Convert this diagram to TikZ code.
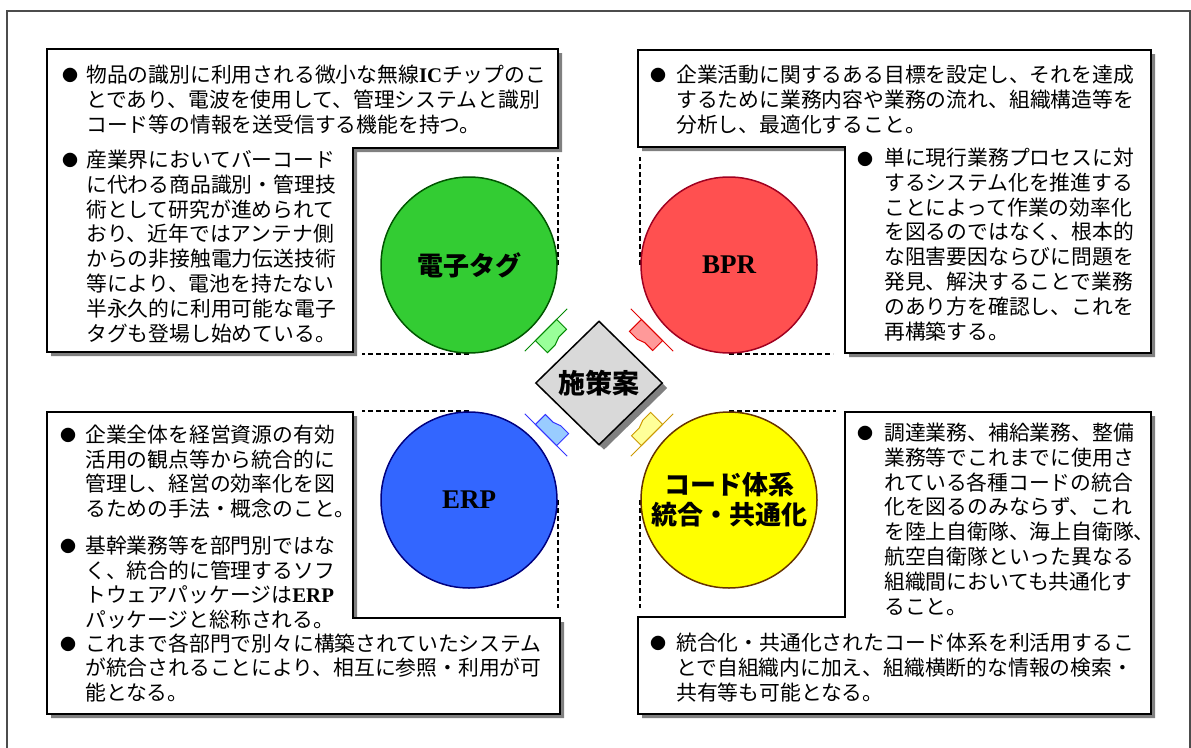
\documentclass[tikz,border=0pt]{standalone}
\usepackage{fontspec}
\usetikzlibrary{shapes.geometric,shadows}
\newfontfamily\jp{Noto Sans CJK JP}
\newfontfamily\tnr{Liberation Serif}
\newcommand\tnrb{\tnr\bfseries}
\definecolor{cgreen}{HTML}{33CC33}
\definecolor{cgreenD}{HTML}{005500}
\definecolor{cred}{HTML}{FF5050}
\definecolor{credD}{HTML}{A00020}
\definecolor{cblue}{HTML}{3366FF}
\definecolor{cblueD}{HTML}{000080}
\definecolor{cyellow}{HTML}{FFFF00}
\definecolor{cyellowD}{HTML}{663300}
\definecolor{mgreen}{HTML}{99FF99}
\definecolor{mgreenD}{HTML}{008800}
\definecolor{mred}{HTML}{FF9999}
\definecolor{mredD}{HTML}{E00000}
\definecolor{mblue}{HTML}{99CCFF}
\definecolor{mblueD}{HTML}{3333FF}
\definecolor{myellow}{HTML}{FFFF99}
\definecolor{myellowD}{HTML}{CC9900}
\begin{document}
\begin{tikzpicture}[x=1pt,y=-1pt,
  frame/.style={draw=black!70,line width=1.3pt},
  boxbody/.style={fill=white,draw=black,line width=1.1pt,
     drop shadow={shadow xshift=4pt,shadow yshift=-4pt,opacity=1,fill=black!50}},
  dashline/.style={draw=black,line width=1.8pt,dash pattern=on 5pt off 3pt},
  txt/.style={font=\jp\fontsize{20.8}{24}\selectfont,anchor=base west,inner sep=0pt},
  bul/.style={font=\jp\fontsize{16}{16}\selectfont,inner sep=0pt},
  ball/.style={circle,minimum size=176pt,inner sep=0pt,line width=1.5pt},
  jlabel/.style={font=\jp\bfseries\fontsize{26}{30}\selectfont,align=center},
  llabel/.style={font=\tnr\bfseries\fontsize{27}{30}\selectfont},
  mk/.pic={
    \filldraw[pic actions] (0,-15) -- (0,15) -- (-14,15) -- (-14,4) -- (-17,-4) -- (-17,-15) -- cycle;
    \draw[pic actions] (0,-30) -- (0,30);
  }]
\useasboundingbox (0,0) rectangle (1191,747);
\clip (0,0) rectangle (1191,747);
% outer frame
\draw[frame] (7,11) rectangle (1190,800);
% boxes
\draw[boxbody] (47,49) -- (558,49) -- (558,148) -- (353,148) -- (353,352) -- (47,352) -- cycle;
\draw[boxbody] (638,50) -- (1151,50) -- (1151,353) -- (845,353) -- (845,147) -- (638,147) -- cycle;
\draw[boxbody] (47,412) -- (353,412) -- (353,618) -- (560,618) -- (560,714) -- (47,714) -- cycle;
\draw[boxbody] (845,412) -- (1151,412) -- (1151,714) -- (638,714) -- (638,617) -- (845,617) -- cycle;
% circles (anchors for guide lines)
\node[ball] (tag) at (469,265) {};
\node[ball] (bpr) at (729,265) {};
\node[ball] (erp) at (469,500) {};
\node[ball] (code) at (729,500) {};
% dashed guide lines
\draw[dashline] (tag.east) -- ++(0,-108);
\draw[dashline] (tag.south) -- ++(-107,0);
\draw[dashline] (bpr.west) -- ++(0,-108);
\draw[dashline] (bpr.south) -- ++(104,0);
\draw[dashline] (erp.north) -- ++(-107,0);
\draw[dashline] (erp.east) -- ++(0,108);
\draw[dashline] (code.north) -- ++(107,0);
\draw[dashline] (code.west) -- ++(0,108);
% coloured circles
\node[ball,fill=cgreen,draw=cgreenD,jlabel] (tag2) at (tag) {電子タグ};
\node[ball,fill=cred,draw=credD,llabel] (bpr2) at (bpr) {BPR};
\node[ball,fill=cblue,draw=cblueD,llabel] (erp2) at (erp) {ERP};
\node[ball,fill=cyellow,draw=cyellowD,jlabel] (code2) at (code) {コード体系\\統合・共通化};
% markers
\pic[rotate=135,draw=mgreenD,fill=mgreen,line width=1pt] (mkg) at (546,330) {mk};
\pic[rotate=45,draw=mredD,fill=mred,line width=1pt] (mkr) at (652,330) {mk};
\pic[rotate=225,draw=mblueD,fill=mblue,line width=1pt] (mkb) at (546,435) {mk};
\pic[rotate=-45,draw=myellowD,fill=myellow,line width=1pt] (mky) at (652,435) {mk};
% centre diamond
\node[diamond,draw=black,fill=black!15,line width=1.5pt,minimum width=127pt,minimum height=124pt,
  inner sep=0pt,jlabel,font=\jp\bfseries\fontsize{27}{30}\selectfont,
  drop shadow={shadow xshift=5pt,shadow yshift=-5pt,opacity=1,fill=black!50}] (plan) at (599,383) {施策案};
% bullets
\foreach \x/\y [count=\k] in {70/75,70/160,658/75,865/159,68/435,68/546,68/644,865/433,658/643}
  \node[bul] (b\k) at (\x,\y) {●};
% texts
\foreach \t [count=\i from 0] in {物品の識別に利用される微小な無線{\tnrb IC}チップのこ,とであり、電波を使用して、管理システムと識別,コード等の情報を送受信する機能を持つ。}
  \node[txt] (tla\i) at (86,{82.5+24.8*\i}) {\t};
\foreach \t [count=\i from 0] in {産業界においてバーコード,に代わる商品識別・管理技,術として研究が進められて,おり、近年ではアンテナ側,からの非接触電力伝送技術,等により、電池を持たない,半永久的に利用可能な電子,タグも登場し始めている。}
  \node[txt] (tlb\i) at (86,{167.5+24.8*\i}) {\t};
\foreach \t [count=\i from 0] in {企業活動に関するある目標を設定し、それを達成,するために業務内容や業務の流れ、組織構造等を,分析し、最適化すること。}
  \node[txt] (tra\i) at (676,{82.5+24.8*\i}) {\t};
\foreach \t [count=\i from 0] in {単に現行業務プロセスに対,するシステム化を推進する,ことによって作業の効率化,を図るのではなく、根本的,な阻害要因ならびに問題を,発見、解決することで業務,のあり方を確認し、これを,再構築する。}
  \node[txt] (trb\i) at (884,{165.5+24.8*\i}) {\t};
\foreach \t [count=\i from 0] in {企業全体を経営資源の有効,活用の観点等から統合的に,管理し、経営の効率化を図,るための手法・概念のこと。}
  \node[txt] (bla\i) at (85,{442.5+24.6*\i}) {\t};
\foreach \t [count=\i from 0] in {基幹業務等を部門別ではな,く、統合的に管理するソフ,トウェアパッケージは{\tnrb ERP},パッケージと総称される。}
  \node[txt] (blb\i) at (85,{553.5+24.6*\i}) {\t};
\foreach \t [count=\i from 0] in {これまで各部門で別々に構築されていたシステム,が統合されることにより、相互に参照・利用が可,能となる。}
  \node[txt] (blc\i) at (85,{651+24.6*\i}) {\t};
\foreach \t [count=\i from 0] in {調達業務、補給業務、整備,業務等でこれまでに使用さ,れている各種コードの統合,化を図るのみならず、これ,を陸上自衛隊、海上自衛隊、,航空自衛隊といった異なる,組織間においても共通化す,ること。}
  \node[txt] (bra\i) at (884,{440.5+24.8*\i}) {\t};
\foreach \t [count=\i from 0] in {統合化・共通化されたコード体系を利活用するこ,とで自組織内に加え、組織横断的な情報の検索・,共有等も可能となる。}
  \node[txt] (brb\i) at (676,{650.5+24.8*\i}) {\t};
\end{tikzpicture}
\end{document}
